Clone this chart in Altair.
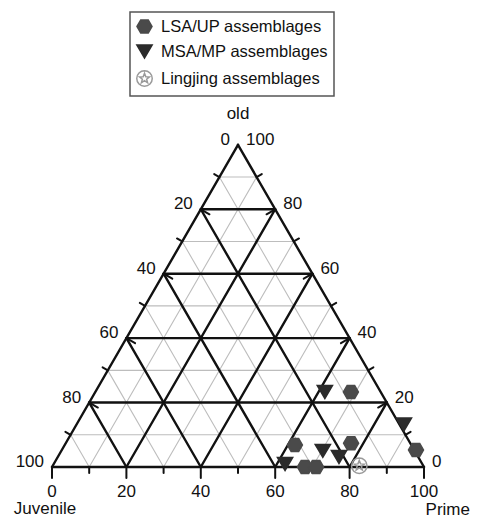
import math
import altair as alt
import pandas as pd

# ---------------- data ----------------
series_names = ["LSA/UP assemblages", "MSA/MP assemblages", "Lingjing assemblages"]
lsa_prime = [68.7, 95.2, 61.9, 76.7, 68.0, 71.0]
lsa_old = [23.3, 5.3, 6.8, 7.4, 0.0, 0.0]
msa_prime = [61.7, 88.0, 70.3, 75.6, 62.2]
msa_old = [23.3, 13.2, 5.0, 3.1, 0.9]
ling_prime = [82.4]
ling_old = [0.4]

bottom_labels = [0, 20, 40, 60, 80, 100]   # Prime
left_labels = [0, 20, 40, 60, 80, 100]     # Juvenile
right_labels = [100, 80, 60, 40, 20, 0]    # old
major_steps = [20, 40, 60, 80]
minor_steps = [10, 30, 50, 70, 90]

S = math.sqrt(3) / 2


def cart(prime, old):
    return prime + old / 2.0, old * S


# ---------------- geometry (scales) ----------------
W, H = 463, 510
PX = 3.72  # pixels per unit
x0 = -44 / PX
x1 = x0 + W / PX
y0 = -(H - 459) / PX
y1 = y0 + H / PX
xs = alt.Scale(domain=[x0, x1], nice=False, zero=False)
ys = alt.Scale(domain=[y0, y1], nice=False, zero=False)


def grid_lines(vals):
    rows = []
    for v in vals:
        rows.append(dict(x=v / 2, y=v * S, x2=100 - v / 2, y2=v * S))            # constant old
        rows.append(dict(x=v, y=0, x2=v + (100 - v) / 2, y2=(100 - v) * S))      # constant prime
        rows.append(dict(x=100 - v, y=0, x2=(100 - v) / 2, y2=(100 - v) * S))    # constant juvenile
    return pd.DataFrame(rows)


minor_df = grid_lines(minor_steps)
major_df = grid_lines(major_steps)
edges_df = pd.DataFrame([
    dict(x=0, y=0, x2=100, y2=0),
    dict(x=0, y=0, x2=50, y2=100 * S),
    dict(x=100, y=0, x2=50, y2=100 * S),
])

# ticks
LMAJ_B, LMIN_B = 11 / PX, 6 / PX
LMAJ_S, LMIN_S = 10 / PX, 6 / PX
tick_rows = []
for v in bottom_labels:
    tick_rows.append(dict(x=v, y=0, x2=v, y2=-LMAJ_B))
for v in minor_steps:
    tick_rows.append(dict(x=v, y=0, x2=v, y2=-LMIN_B))
for j in major_steps:
    px, py = (100 - j) / 2, (100 - j) * S
    tick_rows.append(dict(x=px, y=py, x2=px + LMAJ_S * S, y2=py - LMAJ_S * 0.5))
for j in minor_steps:
    px, py = (100 - j) / 2, (100 - j) * S
    tick_rows.append(dict(x=px, y=py, x2=px - LMIN_S * S, y2=py + LMIN_S * 0.5))
for o in major_steps:
    px, py = 100 - o / 2, o * S
    tick_rows.append(dict(x=px, y=py, x2=px - LMAJ_S * S, y2=py - LMAJ_S * 0.5))
for o in minor_steps:
    px, py = 100 - o / 2, o * S
    tick_rows.append(dict(x=px, y=py, x2=px + LMIN_S * S, y2=py + LMIN_S * 0.5))
ticks_df = pd.DataFrame(tick_rows)

# labels
bottom_df = pd.DataFrame([dict(x=v, y=0, t=str(v)) for v in bottom_labels])
left_df = pd.DataFrame([dict(x=(100 - j) / 2, y=(100 - j) * S, t=str(j)) for j in left_labels])
right_df = pd.DataFrame([dict(x=100 - o / 2, y=o * S, t=str(o)) for o in right_labels])

# points
pts = []
for p, o in zip(lsa_prime, lsa_old):
    x, y = cart(p, o)
    pts.append(dict(series=series_names[0], x=x, y=y))
for p, o in zip(msa_prime, msa_old):
    x, y = cart(p, o)
    pts.append(dict(series=series_names[1], x=x, y=y))
for p, o in zip(ling_prime, ling_old):
    x, y = cart(p, o)
    pts.append(dict(series=series_names[2], x=x, y=y))
pts_df = pd.DataFrame(pts)

# symbol shapes
hex_path = "M-1,0L-0.5,-0.866L0.5,-0.866L1,0L0.5,0.866L-0.5,0.866Z"
tri_path = "M-1,-0.85L1,-0.85L0,0.85Z"
star_parts = []
for k in range(10):
    ang = math.radians(-90 + 36 * k)
    r = 0.68 if k % 2 == 0 else 0.29
    star_parts.append(("M" if k == 0 else "L") + f"{r * math.cos(ang):.3f},{r * math.sin(ang):.3f}")
ling_path = "M1,0A1,1,0,1,1,-1,0A1,1,0,1,1,1,0Z" + "".join(star_parts) + "Z"

FONT = "Liberation Sans"
TXT = "#111111"


def seg_layer(df, color, width):
    return alt.Chart(df).mark_rule(color=color, strokeWidth=width, strokeCap="round").encode(
        x=alt.X("x:Q", scale=xs, axis=None),
        y=alt.Y("y:Q", scale=ys, axis=None),
        x2="x2:Q",
        y2="y2:Q",
    )


minor_layer = seg_layer(minor_df, "#bdbdbd", 1.1)
major_layer = seg_layer(major_df, "#111111", 2.4)
edge_layer = seg_layer(edges_df, "#111111", 2.4)
tick_layer = seg_layer(ticks_df, "#111111", 2.0)


def text_layer(df, **kw):
    return alt.Chart(df).mark_text(font=FONT, fontSize=17, color=TXT, **kw).encode(
        x=alt.X("x:Q", scale=xs, axis=None),
        y=alt.Y("y:Q", scale=ys, axis=None),
        text="t:N",
    )


bottom_text = text_layer(bottom_df, align="center", baseline="middle", dy=25)
left_text = text_layer(left_df, align="right", baseline="middle", dx=-8, dy=-5)
right_text = text_layer(right_df, align="left", baseline="middle", dx=8, dy=-5)

titles_top = text_layer(pd.DataFrame([dict(x=50, y=100 * S, t="old")]),
                        align="center", baseline="middle", dy=-31)
titles_juv = text_layer(pd.DataFrame([dict(x=0, y=0, t="Juvenile")]),
                        align="center", baseline="middle", dx=-7, dy=42)
titles_prime = text_layer(pd.DataFrame([dict(x=100, y=0, t="Prime")]),
                          align="right", baseline="middle", dx=46, dy=43)

leg = alt.Legend(
    title=None, orient="none", legendX=122, legendY=4, padding=6,
    strokeColor="#555555", labelFont=FONT, labelFontSize=16.5, labelColor=TXT,
    labelLimit=400, rowPadding=6, labelOffset=8, symbolStrokeWidth=1.5,
)

points = alt.Chart(pts_df).mark_point(filled=True, opacity=1, strokeWidth=1.5).encode(
    x=alt.X("x:Q", scale=xs, axis=None),
    y=alt.Y("y:Q", scale=ys, axis=None),
    shape=alt.Shape("series:N", scale=alt.Scale(domain=series_names, range=[hex_path, tri_path, ling_path]), legend=leg),
    fill=alt.Fill("series:N", scale=alt.Scale(domain=series_names, range=["#4a4a4a", "#2b2b2b", "transparent"]), legend=leg),
    stroke=alt.Stroke("series:N", scale=alt.Scale(domain=series_names, range=["#4a4a4a", "#2b2b2b", "#9a9a9a"]), legend=leg),
    size=alt.Size("series:N", scale=alt.Scale(domain=series_names, range=[225, 240, 460]), legend=leg),
)

chart = alt.layer(
    minor_layer, major_layer, edge_layer, tick_layer,
    bottom_text, left_text, right_text, titles_top, titles_juv, titles_prime,
    points,
).properties(
    width=W, height=H, padding=0, autosize=alt.AutoSizeParams(type="none")
).configure_view(stroke=None).configure_legend(strokeWidth=1.5)

chart.save("out.html", embed_options={"renderer": "svg", "actions": False})
